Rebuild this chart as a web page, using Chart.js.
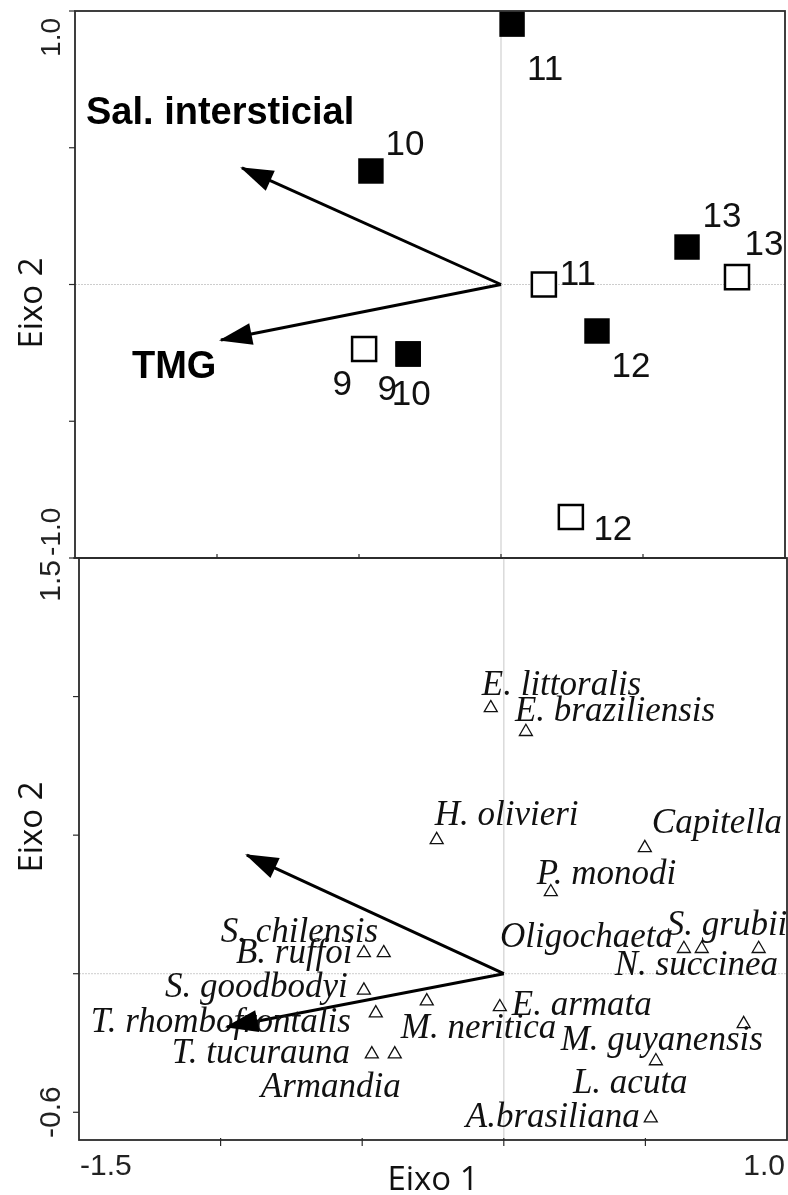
<!DOCTYPE html>
<html>
<head>
<meta charset="utf-8">
<script src="https://cdn.jsdelivr.net/npm/chart.js@4.4.1/dist/chart.umd.min.js"></script>
<style>
  html, body { margin: 0; padding: 0; background: #fff; }
  #wrap { position: relative; width: 788px; height: 1195px; overflow: hidden; }
  #wrap canvas { position: absolute; left: 0; }
  #topo { top: 0; }
  #base { top: 540px; }
</style>
</head>
<body>
<div id="wrap">
  <canvas id="topo" width="788" height="570"></canvas>
  <canvas id="base" width="788" height="655"></canvas>
</div>
<script>
// eixos
const eixo1Min = -1.5;
const eixo1Max = 1.0;
const eixo2TopoMin = -1.0;
const eixo2TopoMax = 1.0;
const eixo2BaseMin = -0.6;
const eixo2BaseMax = 1.5;
const passoTick = 0.5;

// painel de cima: amostras (quadrado cheio / vazio)
const amostrasCheias = ["11", "10", "13", "12", "10", "9"];
const cheiasX = [0.039, -0.458, 0.655, 0.338, -0.327, -0.327];
const cheiasY = [0.952, 0.415, 0.137, -0.170, -0.254, -0.254];
const amostrasVazias = ["11", "13", "12", "9"];
const vaziasX = [0.151, 0.831, 0.246, -0.482];
const vaziasY = [0.0, 0.027, -0.850, -0.236];

// vetores ambientais
const vetores = ["Sal. intersticial", "TMG"];
const vetorTopoX = [-0.912, -0.986];
const vetorTopoY = [0.426, -0.203];
const vetorBaseX = [-0.907, -0.978];
const vetorBaseY = [0.428, -0.192];

// painel de baixo: especies
const especies = ["E. littoralis", "E. braziliensis", "H. olivieri", "Capitella", "P. monodi",
  "Oligochaeta", "S. grubii", "N. succinea", "E. armata", "M. neritica", "M. guyanensis",
  "L. acuta", "A.brasiliana", "S. chilensis", "B. ruffoi", "S. goodbodyi",
  "T. rhombofrontalis", "T. tucurauna", "Armandia"];
const especiesX = [-0.046, 0.078, -0.237, 0.498, 0.166, 0.636, 0.699, 0.900, -0.014, -0.272,
  0.847, 0.537, 0.519, -0.424, -0.494, -0.494, -0.452, -0.466, -0.385];
const especiesY = [0.959, 0.873, 0.483, 0.454, 0.295, 0.090, 0.090, 0.090, -0.120, -0.099,
  -0.181, -0.315, -0.521, 0.075, 0.075, -0.060, -0.142, -0.290, -0.290];

// deslocamento dos rotulos em px (estilo, nao dado)
const offCheias = [[33, 56], [34, -16], [35, -20], [34, 46], [3, 51], [-21, 46]];
const offVazias = [[34, 0], [27, -22], [42, 23], [-22, 46]];
const offVetores = [[-156, -44], [-89, 38]];
const offEspecies = [[-9, -13], [-11, -11], [-2, -15], [7, -15], [-14, -8], [-184, -2],
  [-35, -14], [-144, 26], [12, 8], [-26, 37], [-183, 26], [-83, 32], [-185, 9],
  [-163, -11], [-128, 10], [-199, 7], [-285, 19], [-200, 9], [-134, 43]];

const pts = (xs, ys) => xs.map((x, i) => ({ x, y: ys[i] }));

function vetorDatasets(xs, ys, nomes) {
  return xs.map((vx, i) => ({
    data: [{ x: 0, y: 0 }, { x: vx, y: ys[i] }],
    showLine: true,
    borderColor: "#000",
    borderWidth: 3,
    pointRadius: 0,
    seta: true,
    nome: nomes ? nomes[i] : null,
    offNome: nomes ? offVetores[i] : null,
  }));
}

function moldura(cfg) {
  return {
    id: "moldura",
    beforeDatasetsDraw(chart) {
      const { ctx, chartArea: a, scales: { x, y } } = chart;
      const x0 = x.getPixelForValue(0);
      const y0 = y.getPixelForValue(0);
      ctx.save();
      ctx.strokeStyle = "#dadada";
      ctx.lineWidth = 1.5;
      ctx.beginPath();
      ctx.moveTo(x0, a.top);
      ctx.lineTo(x0, a.bottom);
      ctx.stroke();
      ctx.strokeStyle = "#cdcdcd";
      ctx.lineWidth = 1;
      ctx.setLineDash([2, 1]);
      ctx.beginPath();
      ctx.moveTo(a.left, y0);
      ctx.lineTo(a.right, y0);
      ctx.stroke();
      ctx.restore();
    },
    afterDatasetsDraw(chart) {
      const { ctx, chartArea: a, scales: { x, y } } = chart;
      ctx.save();

      // setas e rotulos
      chart.data.datasets.forEach((ds, i) => {
        const meta = chart.getDatasetMeta(i);
        if (ds.seta) {
          const p0 = meta.data[0], p1 = meta.data[1];
          const ang = Math.atan2(p1.y - p0.y, p1.x - p0.x);
          const len = 33, half = 11;
          const tx = p1.x + Math.cos(ang) * 2, ty = p1.y + Math.sin(ang) * 2;
          ctx.fillStyle = "#000";
          ctx.beginPath();
          ctx.moveTo(tx, ty);
          ctx.lineTo(tx - len * Math.cos(ang) - half * Math.sin(ang), ty - len * Math.sin(ang) + half * Math.cos(ang));
          ctx.lineTo(tx - len * Math.cos(ang) + half * Math.sin(ang), ty - len * Math.sin(ang) - half * Math.cos(ang));
          ctx.closePath();
          ctx.fill();
          if (ds.nome) {
            ctx.font = "bold 38px 'Liberation Sans', Arial, sans-serif";
            ctx.textAlign = "left";
            ctx.textBaseline = "alphabetic";
            ctx.fillText(ds.nome, p1.x + ds.offNome[0], p1.y + ds.offNome[1]);
          }
        }
        if (ds.rotulos) {
          ctx.fillStyle = "#111";
          ctx.font = ds.fonte;
          ctx.textAlign = ds.alinha;
          ctx.textBaseline = "alphabetic";
          meta.data.forEach((el, j) => {
            ctx.fillText(ds.rotulos[j], el.x + ds.offs[j][0], el.y + ds.offs[j][1]);
          });
        }
      });

      // moldura
      ctx.strokeStyle = "#2b2b2b";
      ctx.lineWidth = 1.8;
      ctx.strokeRect(a.left, a.top, a.right - a.left, a.bottom - a.top);

      // ticks do eixo 2 (fora, a esquerda)
      ctx.lineWidth = 1.2;
      const yMin = y.min, yMax = y.max;
      for (let v = Math.ceil(yMin / passoTick) * passoTick; v <= yMax + 1e-9; v += passoTick) {
        const py = y.getPixelForValue(v);
        ctx.beginPath();
        ctx.moveTo(a.left - 6, py);
        ctx.lineTo(a.left, py);
        ctx.stroke();
      }
      // ticks do eixo 1
      for (let v = eixo1Min + passoTick; v < eixo1Max - 1e-9; v += passoTick) {
        const px = x.getPixelForValue(v);
        ctx.beginPath();
        ctx.moveTo(px, a.bottom + cfg.tickBaixo[0]);
        ctx.lineTo(px, a.bottom + cfg.tickBaixo[1]);
        ctx.stroke();
      }

      // rotulos dos extremos do eixo 2 (girados)
      ctx.fillStyle = "#222";
      ctx.font = cfg.fonteTick;
      ctx.textBaseline = "alphabetic";
      ctx.save();
      ctx.translate(60, a.top + cfg.ajusteTopo);
      ctx.rotate(-Math.PI / 2);
      ctx.textAlign = "right";
      ctx.fillText(cfg.rotuloMax, 0, 0);
      ctx.restore();
      ctx.save();
      ctx.translate(60, a.bottom - 2);
      ctx.rotate(-Math.PI / 2);
      ctx.textAlign = "left";
      ctx.fillText(cfg.rotuloMin, 0, 0);
      ctx.restore();

      // titulo eixo 2
      ctx.save();
      ctx.fillStyle = "#111";
      ctx.font = "33px 'Open Sans', 'Noto Sans', sans-serif";
      ctx.translate(42, cfg.tituloY);
      ctx.rotate(-Math.PI / 2);
      ctx.textAlign = "center";
      ctx.fillText("Eixo 2", 0, 0);
      ctx.restore();

      if (cfg.eixo1) {
        ctx.font = cfg.fonteTick;
        ctx.fillStyle = "#222";
        ctx.textAlign = "left";
        ctx.fillText(eixo1Min.toFixed(1), a.left + 1, a.bottom + 35);
        ctx.textAlign = "right";
        ctx.fillText(eixo1Max.toFixed(1), a.right - 2, a.bottom + 35);
        ctx.font = "33px 'Open Sans', 'Noto Sans', sans-serif";
        ctx.fillStyle = "#111";
        ctx.textAlign = "center";
        ctx.fillText("Eixo 1", (a.left + a.right) / 2, a.bottom + 50);
      }
      ctx.restore();
    },
  };
}

function painel(id, yMin, yMax, datasets, padding, cfg) {
  return new Chart(document.getElementById(id), {
    type: "scatter",
    data: { datasets },
    options: {
      responsive: false,
      animation: false,
      layout: { padding, autoPadding: false },
      scales: {
        x: { type: "linear", min: eixo1Min, max: eixo1Max, display: false },
        y: { type: "linear", min: yMin, max: yMax, display: false },
      },
      plugins: { legend: { display: false }, tooltip: { enabled: false } },
    },
    plugins: [moldura(cfg)],
  });
}

const fonteNum = "35px 'Liberation Sans', Arial, sans-serif";

painel("topo", eixo2TopoMin, eixo2TopoMax, [
  {
    data: pts(cheiasX, cheiasY),
    pointStyle: "rect",
    pointRadius: 18,
    backgroundColor: "#000",
    borderColor: "#000",
    borderWidth: 0,
    rotulos: amostrasCheias, offs: offCheias, fonte: fonteNum, alinha: "center",
  },
  {
    data: pts(vaziasX, vaziasY),
    pointStyle: "rect",
    pointRadius: 17,
    backgroundColor: "#fff",
    borderColor: "#000",
    borderWidth: 2.5,
    rotulos: amostrasVazias, offs: offVazias, fonte: fonteNum, alinha: "center",
  },
  ...vetorDatasets(vetorTopoX, vetorTopoY, vetores),
], { left: 75, top: 11, right: 3, bottom: 12 }, {
  fonteTick: "28px 'Liberation Sans', Arial, sans-serif",
  rotuloMax: eixo2TopoMax.toFixed(1),
  rotuloMin: eixo2TopoMin.toFixed(1),
  ajusteTopo: 7,
  tickBaixo: [-4, 0],
  tituloY: 303,
  eixo1: false,
});

painel("base", eixo2BaseMin, eixo2BaseMax, [
  {
    data: pts(especiesX, especiesY),
    pointStyle: "triangle",
    pointRadius: 7.5,
    backgroundColor: "rgba(0,0,0,0)",
    borderColor: "#111",
    borderWidth: 1.3,
    rotulos: especies, offs: offEspecies,
    fonte: "italic 35px 'Liberation Serif', 'Times New Roman', serif", alinha: "left",
  },
  ...vetorDatasets(vetorBaseX, vetorBaseY, null),
], { left: 79, top: 18, right: 1, bottom: 55 }, {
  fonteTick: "30px 'Liberation Sans', Arial, sans-serif",
  rotuloMax: eixo2BaseMax.toFixed(1),
  rotuloMin: eixo2BaseMin.toFixed(1),
  ajusteTopo: 2,
  tickBaixo: [-2, 6],
  tituloY: 827 - 540,
  eixo1: true,
});
</script>
</body>
</html>
